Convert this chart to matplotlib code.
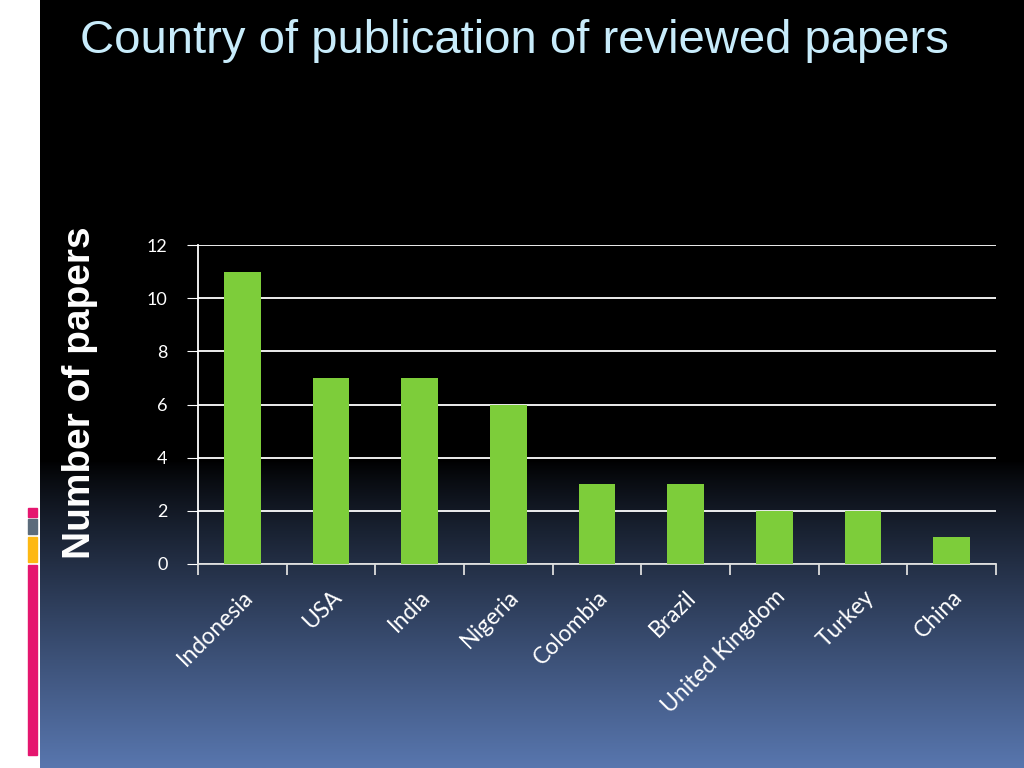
import numpy as np
import matplotlib
matplotlib.use("Agg")
import matplotlib.pyplot as plt
from matplotlib.patches import Rectangle

# data
countries = ["Indonesia", "USA", "India", "Nigeria", "Colombia", "Brazil",
             "United Kingdom", "Turkey", "China"]
papers = [11, 7, 7, 6, 3, 3, 2, 2, 1]
yticks = [0, 2, 4, 6, 8, 10, 12]

green = "#7dcd3a"
title_col = "#c8ecfb"

fig = plt.figure(figsize=(10.24, 7.68), dpi=100)
fig.patch.set_facecolor("white")

# background: dark gradient slide with white strip at left
bg = fig.add_axes([40 / 1024, 0, 1 - 40 / 1024, 1])
bg.set_axis_off()
t = np.linspace(0, 1, 512)
g = np.clip((t - 0.6) / 0.4, 0, 1) ** 0.85
top = np.array([0.0, 0.0, 0.0])
bot = np.array([0x58, 0x76, 0xae]) / 255
grad = top[None, :] * (1 - g[:, None]) + bot[None, :] * g[:, None]
bg.imshow(grad[:, None, :], aspect="auto", extent=[0, 1, 0, 1], origin="upper")
bg.set_xlim(0, 1)
bg.set_ylim(0, 1)

# decorative strips at left
for y0, y1, c in [(508, 517, "#e5166f"), (519, 534, "#5b6b7b"),
                  (537, 562, "#fdb813"), (565, 755, "#e5166f")]:
    fig.patches.append(Rectangle((28 / 1024, 1 - y1 / 768), 9 / 1024, (y1 - y0) / 768,
                                 transform=fig.transFigure, color=c, zorder=5))

fig.text(80 / 1024, 1 - 41 / 768, "Country of publication of reviewed papers",
         color=title_col, fontsize=34, ha="left", va="center",
         family=["Liberation Sans", "DejaVu Sans"])

fig.text(80 / 1024, 1 - 393 / 768, "Number of papers", color="white",
         fontsize=28, fontweight="bold", rotation=90, ha="center", va="center",
         family=["Liberation Sans", "DejaVu Sans"])

ax = fig.add_axes([198 / 1024, 1 - 564 / 768, (996 - 198) / 1024, (564 - 245) / 768])
ax.patch.set_alpha(0)
x = np.arange(len(countries))
ax.bar(x, papers, width=0.41, color=green, zorder=3)
ax.set_xlim(-0.5, len(countries) - 0.5)
ax.set_ylim(0, 12)
ax.set_yticks(yticks)
ax.set_yticklabels([str(v) for v in yticks], color="white", fontsize=13,
                   family=["Lato", "DejaVu Sans"])
ax.tick_params(axis="y", length=8, color="white", pad=14)
ax.grid(axis="y", color="white", linewidth=1.3, zorder=0)

ax.set_xticks(np.arange(-0.5, len(countries), 1.0))
ax.set_xticklabels([])
ax.set_xticks(x, minor=True)
ax.set_xticklabels(countries, minor=True, rotation=45, ha="right",
                   rotation_mode="anchor", color="white", fontsize=16.5,
                   family=["Lato", "DejaVu Sans"])
ax.tick_params(axis="x", which="major", length=8, color="#dddddd", width=1.3)
ax.tick_params(axis="x", which="minor", length=0, pad=16)

for s in ["top", "right"]:
    ax.spines[s].set_visible(False)
ax.spines["left"].set_color("white")
ax.spines["left"].set_linewidth(1.3)
ax.spines["bottom"].set_color("#dddddd")
ax.spines["bottom"].set_linewidth(1.3)

fig.savefig("out.png", dpi=100, facecolor=fig.get_facecolor())
